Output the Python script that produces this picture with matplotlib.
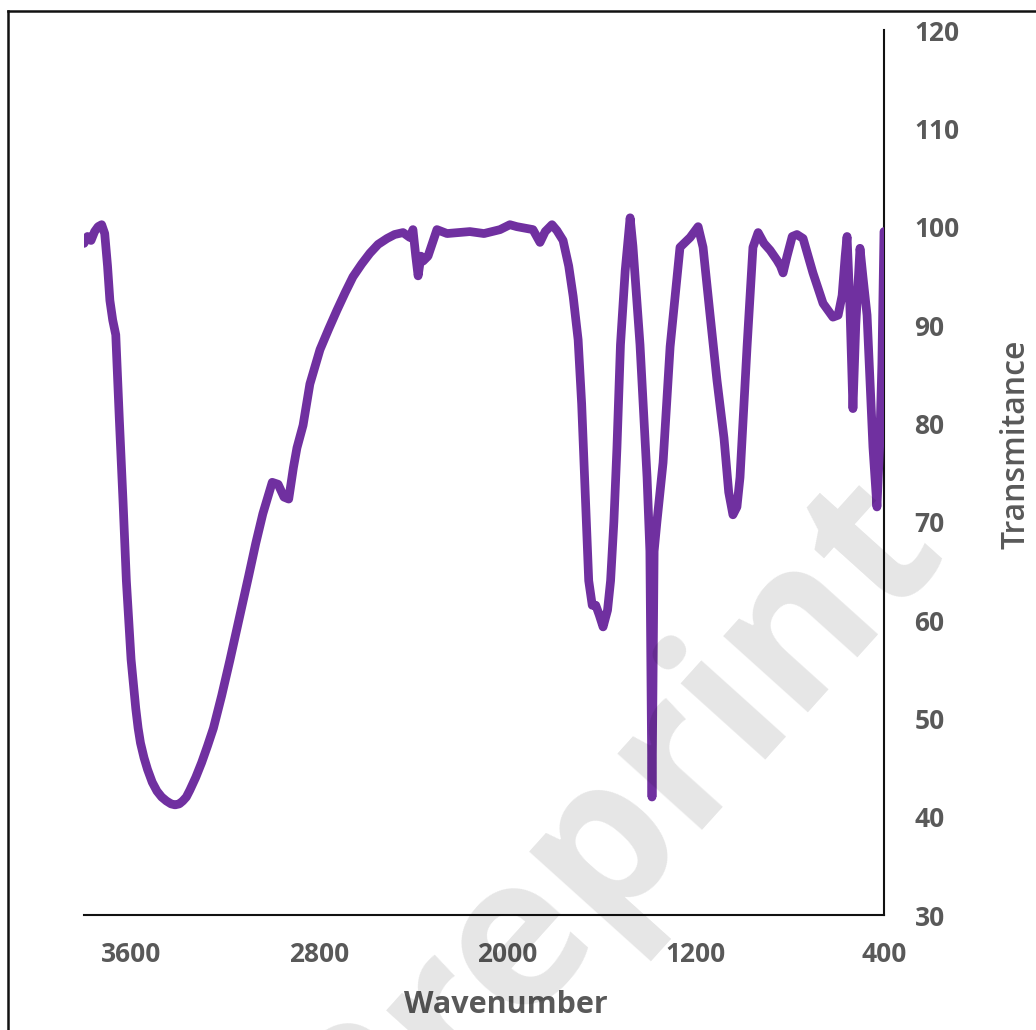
import matplotlib
matplotlib.use("Agg")
import matplotlib.pyplot as plt
from matplotlib.lines import Line2D

# ---- data ----
wavenumber = [3800, 3785, 3770, 3755, 3740, 3725, 3712, 3700, 3690, 3678, 3665, 3650,
              3634, 3620, 3610, 3600, 3590, 3580, 3570, 3560, 3545, 3530, 3510, 3490,
              3470, 3450, 3430, 3413, 3395, 3380, 3365, 3350, 3325, 3300, 3275, 3250,
              3215, 3180, 3140, 3100, 3070, 3040, 3000, 2975, 2950, 2930, 2910, 2895,
              2869, 2840, 2797, 2760, 2725, 2690, 2657, 2620, 2585, 2550, 2512, 2480,
              2444, 2415, 2402, 2390, 2380, 2368, 2359,
              2338, 2300, 2257, 2160, 2100, 2032, 1990, 1960, 1892, 1862, 1840, 1811,
              1790, 1764, 1740, 1721, 1700, 1685, 1670, 1655, 1640, 1625, 1610, 1594,
              1575, 1562, 1548, 1535, 1520, 1500, 1479, 1467, 1437, 1407, 1395, 1386,
              1377, 1365, 1339, 1309, 1267, 1224, 1190, 1169, 1140, 1110, 1080, 1060,
              1042, 1025, 1012, 982, 957, 935, 910, 884, 855, 840, 829, 812, 790, 770,
              744, 702, 659, 617, 595, 578, 565, 557, 545, 532, 520, 502, 490, 472,
              447, 430, 418, 409, 400]
transmittance = [98.3, 99.0, 98.6, 99.5, 100.0, 100.2, 99.3, 96.0, 92.5, 90.5, 89.0, 80.5,
                 72.0, 64.0, 60.0, 56.0, 53.5, 51.0, 49.0, 47.5, 46.0, 44.8, 43.5, 42.6,
                 42.0, 41.6, 41.3, 41.2, 41.3, 41.6, 42.0, 42.7, 44.0, 45.5, 47.2, 49.0,
                 52.3, 55.9, 60.2, 64.5, 67.8, 70.8, 74.0, 73.8, 72.5, 72.3, 75.5, 77.5,
                 79.8, 84.0, 87.5, 89.6, 91.5, 93.3, 94.9, 96.2, 97.3, 98.2, 98.8, 99.2,
                 99.4, 98.9, 99.7, 97.0, 95.0, 97.0, 96.5,
                 97.0, 99.7, 99.3, 99.5, 99.3, 99.7, 100.2, 100.0, 99.7, 98.4, 99.5, 100.2,
                 99.6, 98.6, 96.0, 92.9, 88.5, 82.0, 73.0, 64.0, 61.5, 61.5, 60.5, 59.3,
                 61.0, 64.0, 70.0, 77.5, 88.0, 95.5, 100.9, 98.0, 88.0, 74.5, 67.0, 42.0,
                 67.0, 70.0, 76.0, 87.8, 97.9, 98.9, 100.0, 97.9, 91.2, 84.4, 78.5, 73.0,
                 70.7, 71.5, 74.5, 87.8, 97.9, 99.4, 98.3, 97.6, 96.6, 96.0, 95.3, 97.0, 99.0, 99.2,
                 98.8, 95.3, 92.2, 90.8, 91.0, 93.0, 97.0, 99.0, 92.0, 81.5, 90.0, 97.8, 95.0, 91.0,
                 77.6, 71.5, 78.0, 86.0, 99.5]
x_ticks = [3600, 2800, 2000, 1200, 400]
y_ticks = [30, 40, 50, 60, 70, 80, 90, 100, 110, 120]
x_label = "Wavenumber"
y_label = "Transmitance"
watermark = "Preprint"

W, H = 1036, 1030
fig = plt.figure(figsize=(W / 100, H / 100), dpi=100)
fig.patch.set_facecolor("white")

ax = fig.add_axes([84 / W, 1 - 915 / H, 800 / W, 885 / H])
ax.plot(wavenumber, transmittance, color="#7030A0", lw=6.3,
        solid_joinstyle="round", solid_capstyle="round", zorder=3)
ax.set_xlim(3800, 400)
ax.set_ylim(30, 120)

for s in ("left", "top"):
    ax.spines[s].set_visible(False)
for s in ("right", "bottom"):
    ax.spines[s].set_linewidth(1.5)
    ax.spines[s].set_color("#111111")

ax.yaxis.tick_right()
ax.set_xticks(x_ticks)
ax.set_yticks(y_ticks)
ax.set_xticklabels([str(v) for v in x_ticks])
ax.set_yticklabels([str(v) for v in y_ticks])
for lab in ax.get_xticklabels() + ax.get_yticklabels():
    lab.set_fontfamily("Open Sans")
    lab.set_fontweight("bold")
    lab.set_fontsize(19)
    lab.set_color("#595959")
ax.tick_params(axis="x", length=0, pad=19)
ax.tick_params(axis="y", length=0, pad=22)

fig.text(506 / W, 1 - 1005 / H, x_label, ha="center", va="center",
         family="Open Sans", weight="bold", size=22, color="#595959")
fig.text(1016 / W, 1 - 444 / H, y_label, ha="center", va="center", rotation=90,
         family="Open Sans", weight="semibold", size=23, color="#595959")

# watermark
fig.text(615 / W, 1 - 825 / H, watermark, ha="center", va="center", rotation=48,
         family="Open Sans", weight="bold", size=150, color="black", alpha=0.1,
         zorder=10)

# figure border (left and top only visible)
fig.add_artist(Line2D([8 / W, 8 / W], [0, 1 - 11 / H], transform=fig.transFigure,
                      color="#111111", lw=1.8))
fig.add_artist(Line2D([8 / W, 1], [1 - 11 / H, 1 - 11 / H], transform=fig.transFigure,
                      color="#111111", lw=1.8))

fig.savefig("out.png", dpi=100)
